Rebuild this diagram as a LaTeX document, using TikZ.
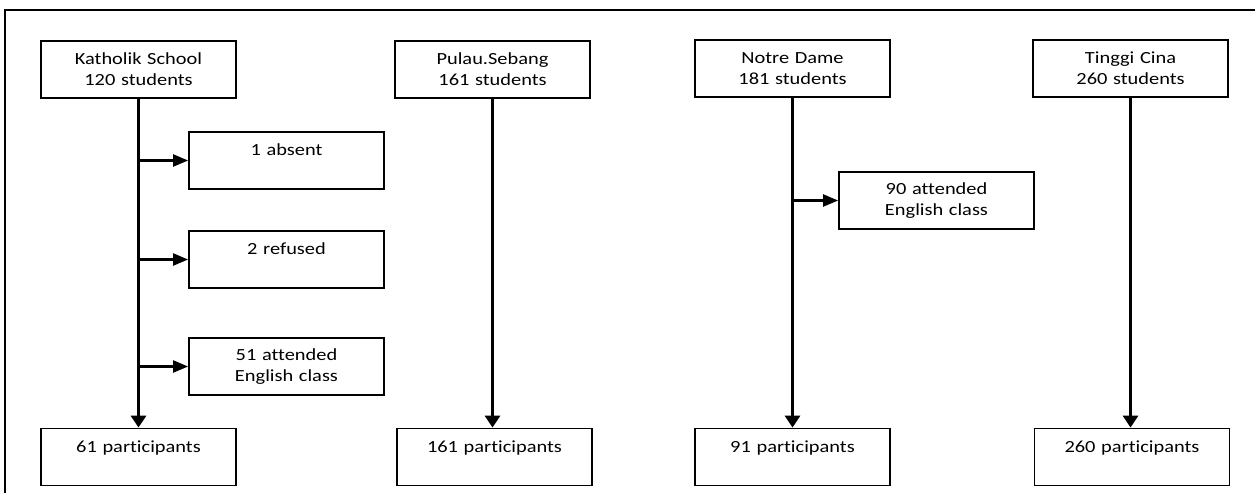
\documentclass[tikz,border=0pt]{standalone}
\usepackage{fontspec}
\setmainfont{Carlito}[FakeStretch=1.2,Ligatures=CommonOff]
\usetikzlibrary{arrows.meta}
\begin{document}
\begin{tikzpicture}[x=1pt,y=-1pt,
  box/.style={draw,line width=1.8pt,minimum width=195pt,minimum height=57pt,
    text width=190pt,align=center,inner sep=0pt,font=\fontsize{17}{21}\selectfont},
  main/.style={line width=3pt,-{Triangle[length=12pt,width=15pt]}},
  side/.style={line width=2.2pt,-{Triangle[length=15pt,width=12pt]}}]
\useasboundingbox (0,0) rectangle (1255,493);
\fill[white] (0,0) rectangle (1255,493);
\draw[line width=1.8pt] (5,493) -- (5,10) -- (1255,10);
% top boxes
\node[box] (k) at (138.5,69.5) {Katholik School\\120 students};
\node[box] (p) at (492.5,69.5) {Pulau.Sebang\\161 students};
\node[box] (n) at (792.5,68.5) {Notre Dame\\181 students};
\node[box] (t) at (1130.5,68.5) {Tinggi Cina\\260 students};
% side boxes
\node[box] (a) at (286.5,160.5) {1 absent\\\mbox{}};
\node[box] (r) at (286.5,259.5) {2 refused\\\mbox{}};
\node[box] (e) at (286.5,366.5) {51 attended\\English class};
\node[box] (ne) at (936.5,200.5) {90 attended\\English class};
% bottom boxes
\node[box] (kp) at (138.5,457) {61 participants\\\mbox{}};
\node[box] (pp) at (494.5,457) {161 participants\\\mbox{}};
\node[box] (np) at (792.5,457) {91 participants\\\mbox{}};
\node[box] (tp) at (1132,457) {260 participants\\\mbox{}};
% main arrows
\draw[main] (k.south) -- (kp.north);
\draw[main] (p.south) -- (p.south |- pp.north);
\draw[main] (n.south) -- (np.north);
\draw[main] (t.south) -- (t.south |- tp.north);
% side arrows
\coordinate (ka) at (k.south |- a.west);
\coordinate (kr) at (k.south |- r.west);
\coordinate (ke) at (k.south |- e.west);
\coordinate (nn) at (n.south |- ne.west);
\draw[side] (ka) -- (a.west);
\draw[side] (kr) -- (r.west);
\draw[side] (ke) -- (e.west);
\draw[side] (nn) -- (ne.west);
\end{tikzpicture}
\end{document}
